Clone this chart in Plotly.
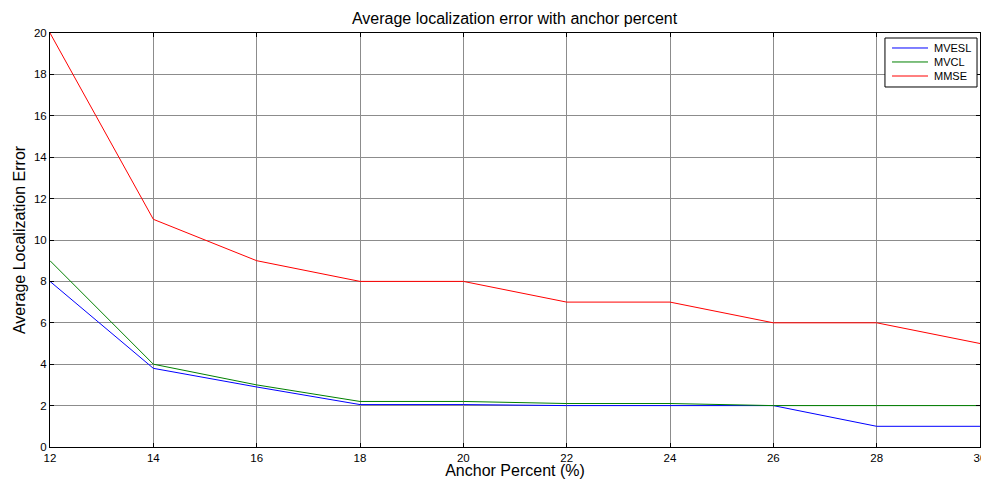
import plotly.graph_objects as go

anchor_percent = [12, 14, 16, 18, 20, 22, 24, 26, 28, 30]
mvesl = [8, 3.8, 2.9, 2.05, 2.05, 2.0, 2.0, 2.0, 1.0, 1.0]
mvcl = [9, 4.0, 3.0, 2.2, 2.2, 2.1, 2.1, 2.0, 2.0, 2.0]
mmse = [20, 11, 9, 8, 8, 7, 7, 6, 6, 5]

series_names = ["MVESL", "MVCL", "MMSE"]
series_colors = ["#0000FF", "#008000", "#FF0000"]

x_ticks = [12, 14, 16, 18, 20, 22, 24, 26, 28, 30]
y_ticks = [0, 2, 4, 6, 8, 10, 12, 14, 16, 18, 20]

FONT = "Liberation Sans, Arial"

fig = go.Figure()
for name, vals, col in zip(series_names, [mvesl, mvcl, mmse], series_colors):
    fig.add_trace(go.Scatter(x=anchor_percent, y=vals, mode="lines", name=name,
                             line=dict(color=col, width=1), showlegend=False))

axis_common = dict(
    showline=True, linecolor="black", linewidth=1, mirror="ticks",
    ticks="inside", ticklen=4, tickcolor="black",
    showgrid=True, gridcolor="#8c8c8c", gridwidth=1,
    zeroline=False, automargin=False, ticklabeloverflow="allow",
    tickfont=dict(family=FONT, size=11.5, color="black"),
)

# MATLAB-style legend box (paper coordinates)
shapes = [dict(type="rect", xref="paper", yref="paper",
               x0=0.8978, x1=0.9968, y0=0.8696, y1=0.9879,
               fillcolor="white", line=dict(color="black", width=1), layer="above")]
annotations = []
row_y = [0.9638, 0.9300, 0.8961]
for name, col, yy in zip(series_names, series_colors, row_y):
    shapes.append(dict(type="line", xref="paper", yref="paper",
                       x0=0.9054, x1=0.9441, y0=yy, y1=yy,
                       line=dict(color=col, width=1), layer="above"))
    annotations.append(dict(xref="paper", yref="paper", x=0.9484, y=yy,
                            xanchor="left", yanchor="middle", showarrow=False,
                            text=name,
                            font=dict(family=FONT, size=11, color="black")))

fig.update_layout(
    width=981, height=479,
    margin=dict(l=50, r=1, t=33, b=32, autoexpand=False),
    paper_bgcolor="white", plot_bgcolor="white",
    title=dict(text="Average localization error with anchor percent",
               x=0.5245, xanchor="center", y=0.962, yanchor="middle",
               font=dict(family=FONT, size=16, color="black")),
    xaxis=dict(range=[12, 30], tickvals=x_ticks,
               title=dict(text="Anchor Percent (%)", standoff=0,
                          font=dict(family=FONT, size=16, color="black")),
               **axis_common),
    yaxis=dict(range=[0, 20], tickvals=y_ticks,
               title=dict(text="Average Localization Error", standoff=4,
                          font=dict(family=FONT, size=16, color="black")),
               **axis_common),
    shapes=shapes,
    annotations=annotations,
    showlegend=False,
)

fig.write_html("out.html", config={"displayModeBar": False},
               post_script="document.body.style.margin='0';document.body.style.overflow='hidden';")
